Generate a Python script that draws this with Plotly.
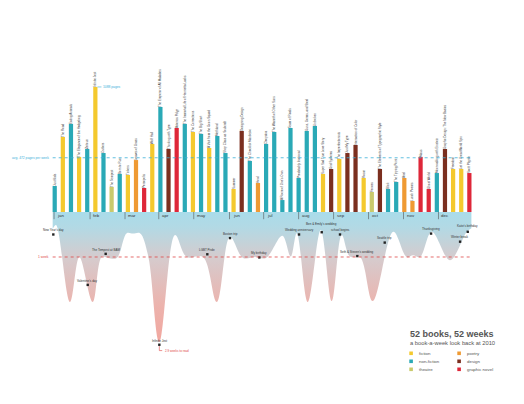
import plotly.graph_objects as go

# ---------------- data ----------------
week = list(range(1, 53))
pages = [226, 653, 766, 479, 548, 1088, 513, 218, 331, 322, 452, 209, 592, 914, 548, 731,
         766, 696, 679, 557, 661, 513, 200, 705, 444, 252, 592, 696, 104, 731, 296, 705,
         748, 331, 374, 461, 513, 583, 296, 174, 374, 200, 261, 296, 96, 479, 200, 339,
         548, 374, 374, 339]
genre = ["non-fiction", "fiction", "non-fiction", "fiction", "non-fiction", "fiction", "non-fiction",
         "theatre", "non-fiction", "fiction", "poetry", "graphic novel", "fiction", "non-fiction",
         "design", "graphic novel", "non-fiction", "fiction", "non-fiction", "fiction", "non-fiction",
         "non-fiction", "fiction", "design", "non-fiction", "poetry", "non-fiction", "non-fiction",
         "non-fiction", "non-fiction", "non-fiction", "non-fiction", "non-fiction", "fiction", "design",
         "fiction", "design", "design", "fiction", "theatre", "design", "non-fiction", "non-fiction",
         "poetry", "poetry", "graphic novel", "graphic novel", "non-fiction", "design", "fiction",
         "fiction", "graphic novel"]
titles = ["Just Kids", "The Road", "Eating Animals", "The Elegance of the Hedgehog", "Zeitoun",
          "Infinite Jest", "Outliers", "The Tempest", "Born to Run", "Tinkers", "Leaves of Grass",
          "Persepolis", "Wolf Hall", "The Emperor of All Maladies", "Thinking with Type",
          "Asterios Polyp", "The Immortal Life of Henrietta Lacks", "The Corrections", "The Big Short",
          "A Visit from the Goon Squad", "Methland", "Shop Class as Soulcraft", "Summer",
          "Designing Design", "The Checklist Manifesto", "Howl", "Cleopatra",
          "The Warmth of Other Suns", "A Room of One's Own", "Team of Rivals",
          "Predictably Irrational", "Guns, Germs, and Steel", "Unbroken", "Super Sad True Love Story",
          "Grid Systems", "The Imperfectionists", "Just My Type", "Interaction of Color", "Room",
          "Fences", "The Elements of Typographic Style", "Blink", "The Tipping Point", "Ariel",
          "Lunch Poems", "Maus", "Ghost World", "Moonwalking with Einstein",
          "Graphic Design: The New Basics", "Freedom", "Let the Great World Spin", "Scott Pilgrim"]

month_labels = ["jan", "feb", "mar", "apr", "may", "jun", "jul", "aug", "sep", "oct", "nov", "dec"]
month_week = [0.92, 5.35, 9.65, 13.8, 18.1, 22.5, 26.7, 31.0, 35.3, 39.6, 43.9, 48.2]

# weeks spent reading
curve_week = [0.75, 1.16, 2.88, 4.03, 5.67, 6.78, 7.56, 8.63, 9.86, 10.63, 11.49, 12.48, 13.87,
              15.8, 17.24, 19.24, 20.93, 22.56, 24.16, 25.64, 26.99, 28.99, 30.03, 30.77, 32.12,
              33.72, 35.07, 36.3, 37.32, 38.55, 40.11, 42.65, 44.3, 45.07, 45.93, 47.37, 49.62,
              51.68, 52.25]
curve_depth = [0.38, 0.29, 2.0, 1.0, 2.0, 1.0, 1.02, 1.02, 0.47, 0.48, 0.47, 0.96, 2.89,
               0.51, 1.0, 1.0, 2.0, 0.55, 1.02, 1.0, 1.02, 0.53, 0.99, 0.47, 2.0,
               0.4, 1.98, 0.51, 0.99, 1.0, 1.98, 0.44, 1.0, 0.96, 1.0, 0.44, 1.07,
               0.44, 0.36]

event_names = ["New Year's day", "Valentine's day", "The Tempest at BAM", "Infinite Jest",
               "LGBT Pride", "Boston trip", "My birthday", "Wedding anniversary",
               "Ben & Emily's wedding", "school begins", "Seth & Steven's wedding", "Seattle trip",
               "Thanksgiving", "Winter break", "Katie's birthday"]
event_week = [0.83, 5.06, 7.27, 13.87, 19.77, 22.56, 26.17, 31.05, 33.84, 36.09, 38.22, 41.59,
              47.29, 50.86, 51.8]
event_depth = [0.50, 1.62, 0.93, 2.95, 0.94, 0.58, 1.01, 0.50, 0.45, 0.50, 0.98, 0.68,
               0.48, 0.66, 0.44]

longest_read_weeks = 2.9
legend_col1 = ["fiction", "non-fiction", "theatre"]
legend_col2 = ["poetry", "design", "graphic novel"]

genre_colors = {"fiction": "#f4c92e", "non-fiction": "#2aa9b6", "theatre": "#c9ca6c",
                "poetry": "#ef9a33", "design": "#7b2f1f", "graphic novel": "#de2739"}
# extra vertical lift (px) for labels that would collide
label_lift = {"Ben & Emily's wedding": 4.5, "Katie's birthday": 1.5}

FONT = "Liberation Sans, Arial, sans-serif"
W, H = 524, 404
avg_pages = round(sum(pages) / len(pages))

fig = go.Figure()

# area: weeks to read
fig.add_trace(go.Scatter(
    x=curve_week, y=curve_depth, yaxis="y2", mode="lines",
    line=dict(shape="spline", smoothing=1.0, width=0, color="rgba(0,0,0,0)"),
    fill="tozeroy",
    fillgradient=dict(type="vertical", start=0, stop=2.95,
                      colorscale=[[0, "#a9dcea"], [0.12, "#b3d9e4"], [0.35, "#d6cbcd"],
                                  [0.7, "#ecb3ad"], [1, "#f2a69e"]]),
    hoverinfo="skip", showlegend=False))

# bars
fig.add_trace(go.Bar(
    x=week, y=pages, width=0.52,
    marker=dict(color=[genre_colors[g] for g in genre], line=dict(width=0)),
    text=titles, textposition="outside", textangle=-90, constraintext="none",
    textfont=dict(size=3.0, color="#444", family=FONT), cliponaxis=False,
    hoverinfo="skip", showlegend=False))

# events
fig.add_trace(go.Scatter(
    x=event_week, y=event_depth, yaxis="y2", mode="markers",
    marker=dict(symbol="square", size=2.4, color="#222"),
    hoverinfo="skip", showlegend=False, cliponaxis=False))

shapes = []
annotations = []

for name, ew, ed in zip(event_names, event_week, event_depth):
    annotations.append(dict(x=ew, y=ed, xref="x", yref="y2", xanchor="center", yanchor="bottom",
                            yshift=1.2 + label_lift.get(name, 0), text=name, showarrow=False,
                            borderpad=0, font=dict(size=3.0, color="#333", family=FONT)))

# average line
shapes.append(dict(type="line", xref="x", yref="y", x0=0.75, x1=52.25, y0=avg_pages, y1=avg_pages,
                   line=dict(color="#3bb0d9", width=0.8, dash="dot")))
annotations.append(dict(x=0.55, y=avg_pages, xref="x", yref="y", xanchor="right", yanchor="middle",
                        text=f"avg. {avg_pages} pages per week", showarrow=False,
                        font=dict(size=3.3, color="#3bb0d9", family=FONT)))
# max label
imax = pages.index(max(pages))
annotations.append(dict(x=week[imax] + 0.26, y=pages[imax], xref="x", yref="y", xanchor="left",
                        yanchor="middle", text=f"{max(pages)} pages", showarrow=True, arrowhead=0,
                        arrowwidth=0.6, arrowcolor="#3bb0d9", ax=4, ay=0, standoff=0,
                        font=dict(size=3.3, color="#3bb0d9", family=FONT)))
# one week line
shapes.append(dict(type="line", xref="x", yref="y2", x0=0.75, x1=52.25, y0=1, y1=1,
                   line=dict(color="#e04848", width=0.8, dash="dot")))
annotations.append(dict(x=0.55, y=1, xref="x", yref="y2", xanchor="right", yanchor="middle",
                        text="1 week", showarrow=False,
                        font=dict(size=3.3, color="#e04848", family=FONT)))
# longest read
iv = event_names.index("Infinite Jest")
shapes.append(dict(type="path", xref="x", yref="y2",
                   path=f"M {event_week[iv]},{event_depth[iv] + 0.03} L {event_week[iv]},{event_depth[iv] + 0.13} L {event_week[iv] + 0.35},{event_depth[iv] + 0.13}",
                   line=dict(color="#e04848", width=0.6)))
annotations.append(dict(x=event_week[iv] + 0.4, y=event_depth[iv] + 0.13, xref="x", yref="y2",
                        xanchor="left", yanchor="middle", text=f"{longest_read_weeks} weeks to read",
                        showarrow=False, font=dict(size=3.0, color="#e04848", family=FONT)))

# month ticks + labels
for m, mw in zip(month_labels, month_week):
    shapes.append(dict(type="line", xref="x", yref="y2", x0=mw, x1=mw, y0=0.0, y1=0.16,
                       line=dict(color="#555", width=0.6)))
    annotations.append(dict(x=mw, y=0.08, xref="x", yref="y2", xanchor="left", yanchor="middle",
                            xshift=1, text=m, showarrow=False,
                            font=dict(size=4.4, color="#333", family=FONT)))

# legend block
def px(xp):
    return xp / W


def py(yp):
    return 1 - yp / H


annotations.append(dict(x=px(408), y=py(333.5), xref="paper", yref="paper", xanchor="left",
                        yanchor="middle", text="<b>52 books, 52 weeks</b>", showarrow=False,
                        font=dict(size=9.0, color="#555", family=FONT)))
annotations.append(dict(x=px(408), y=py(342.7), xref="paper", yref="paper", xanchor="left",
                        yanchor="middle", text="a book-a-week look back at 2010", showarrow=False,
                        font=dict(size=5.8, color="#555", family=FONT)))
rows_y = [353.3, 361.3, 369.3]
for col, (sx, lx) in zip([legend_col1, legend_col2], [(409.3, 417.3), (457.3, 465.3)]):
    for name, ry in zip(col, rows_y):
        shapes.append(dict(type="rect", xref="paper", yref="paper", x0=px(sx), x1=px(sx + 3.6),
                           y0=py(ry + 1.8), y1=py(ry - 1.8), fillcolor=genre_colors[name],
                           line=dict(width=0)))
        annotations.append(dict(x=px(lx), y=py(ry), xref="paper", yref="paper", xanchor="left",
                                yanchor="middle", text=name, showarrow=False,
                                font=dict(size=4.4, color="#555", family=FONT)))

fig.update_layout(
    width=W, height=H, margin=dict(l=0, r=0, t=0, b=0),
    paper_bgcolor="white", plot_bgcolor="white",
    xaxis=dict(range=[-5.728, 58.72], visible=False, fixedrange=True),
    yaxis=dict(range=[-1670.4, 1844.4], visible=False, fixedrange=True),
    yaxis2=dict(range=[4.267, -4.711], overlaying="y", visible=False, fixedrange=True),
    shapes=shapes, annotations=annotations, showlegend=False,
    font=dict(family=FONT),
)

fig.write_html("out.html")
